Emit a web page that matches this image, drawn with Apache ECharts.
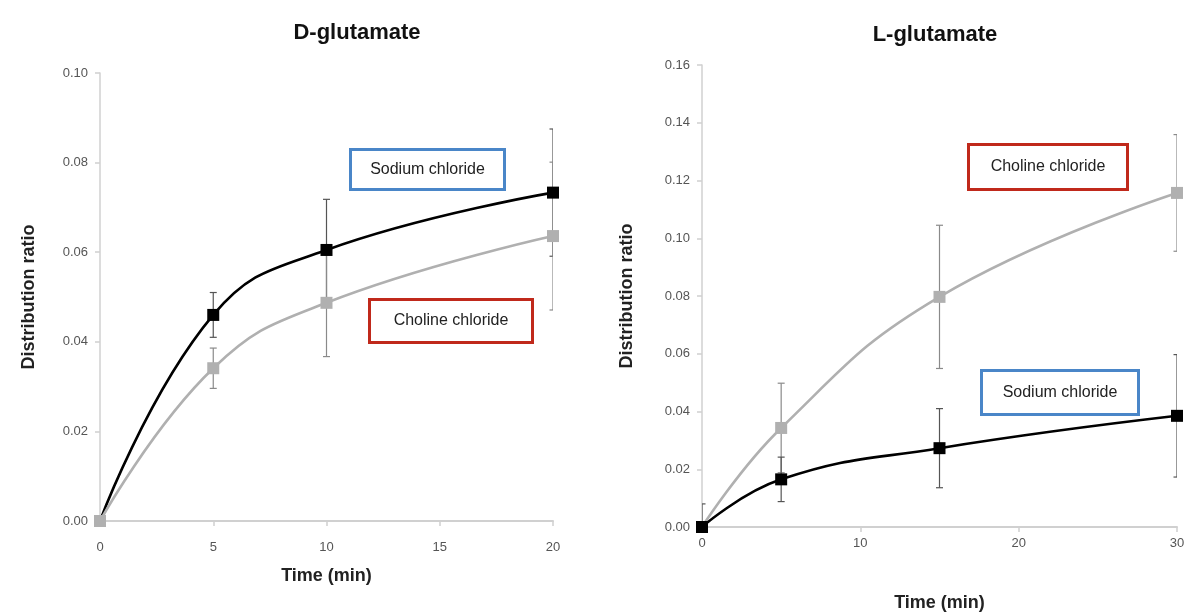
<!DOCTYPE html>
<html>
<head>
<meta charset="utf-8">
<script src="https://cdn.jsdelivr.net/npm/echarts@6/dist/echarts.min.js"></script>
<style>
html,body{margin:0;padding:0;background:#fff;}
#chart{width:1189px;height:615px;}
</style>
</head>
<body>
<div id="chart"></div>
<script>
// ---- Data ----
const dTimes = [0, 5, 10, 20];
const dSodium = [0, 0.046, 0.0605, 0.0733];
const dSodiumErr = [0, 0.005, 0.0113, 0.0142];
const dCholine = [0, 0.0341, 0.0487, 0.0636];
const dCholineErr = [0, 0.0045, 0.012, 0.0165];

const lTimes = [0, 5, 15, 30];
const lSodium = [0, 0.0165, 0.0273, 0.0385];
const lSodiumErr = [0.008, 0.0077, 0.0137, 0.0212];
const lCholine = [0, 0.0343, 0.0797, 0.1157];
const lCholineErr = [0, 0.0155, 0.0248, 0.0202];

const dXTicks = {min: 0, max: 20, interval: 5};
const dYTicks = {min: 0, max: 0.10, interval: 0.02};
const lXTicks = {min: 0, max: 30, interval: 10};
const lYTicks = {min: 0, max: 0.16, interval: 0.02};

const titles = ['D-glutamate', 'L-glutamate'];
const xName = 'Time (min)';
const yName = 'Distribution ratio';
const labelSodium = 'Sodium chloride';
const labelCholine = 'Choline chloride';

// ---- Build ----
const FONT = '"Liberation Sans", Arial, sans-serif';
const BLACK = '#000000';
const GRAY = '#b0b0b0';

function pts(xs, ys) { return xs.map((x, i) => [x, ys[i]]); }
function errs(xs, ys, es) { return xs.map((x, i) => [x, ys[i] - es[i], ys[i] + es[i]]); }

function errorSeries(idx, data, color, z) {
  return {
    type: 'custom', xAxisIndex: idx, yAxisIndex: idx, z: z, silent: true,
    data: data.filter(d => d[2] - d[1] > 0),
    clip: true,
    renderItem: function (params, api) {
      const x = api.value(0);
      const lo = api.coord([x, Math.max(api.value(1), 0)]);
      const hi = api.coord([x, api.value(2)]);
      const loRaw = api.value(1);
      const w = 3.5;
      const style = {stroke: color, lineWidth: 1.2};
      const children = [
        {type: 'line', shape: {x1: hi[0], y1: hi[1], x2: lo[0], y2: lo[1]}, style: style},
        {type: 'line', shape: {x1: hi[0] - w, y1: hi[1], x2: hi[0] + w, y2: hi[1]}, style: style}
      ];
      if (loRaw > 0) children.push({type: 'line', shape: {x1: lo[0] - w, y1: lo[1], x2: lo[0] + w, y2: lo[1]}, style: style});
      return {type: 'group', children: children};
    }
  };
}

function lineSeries(idx, data, color, z) {
  return {
    type: 'line', xAxisIndex: idx, yAxisIndex: idx, z: z,
    data: data, smooth: 0.45, symbol: 'rect', symbolSize: 12,
    lineStyle: {color: color, width: 2.6},
    itemStyle: {color: color},
    animation: false
  };
}

function xAxis(idx, t, nameGap, margin) {
  return {
    type: 'value', gridIndex: idx, min: t.min, max: t.max, interval: t.interval,
    name: xName, nameLocation: 'middle', nameGap: nameGap,
    nameTextStyle: {fontFamily: FONT, fontWeight: 'bold', fontSize: 18, color: '#222'},
    axisLine: {show: true, lineStyle: {color: '#d0d0d0', width: 2}},
    axisTick: {show: true, length: 5, lineStyle: {color: '#d0d0d0', width: 1.5}},
    axisLabel: {fontFamily: FONT, fontSize: 13, color: '#555', margin: margin},
    splitLine: {show: false}
  };
}
function yAxis(idx, t, nameGap) {
  return {
    type: 'value', gridIndex: idx, min: t.min, max: t.max, interval: t.interval,
    name: yName, nameLocation: 'middle', nameGap: nameGap, nameRotate: 90,
    nameTextStyle: {fontFamily: FONT, fontWeight: 'bold', fontSize: 18, color: '#222'},
    axisLine: {show: true, lineStyle: {color: '#d0d0d0', width: 1.5}},
    axisTick: {show: true, length: 5, lineStyle: {color: '#d0d0d0', width: 1.5}},
    axisLabel: {fontFamily: FONT, fontSize: 13, color: '#555', margin: 12,
      formatter: v => v.toFixed(2)},
    splitLine: {show: false}
  };
}

function box(left, top, w, h, text, color) {
  return {
    type: 'group', left: left, top: top,
    children: [
      {type: 'rect', shape: {x: 0, y: 0, width: w, height: h},
       style: {fill: '#fff', stroke: color, lineWidth: 3}},
      {type: 'text', x: w / 2, y: h / 2,
       style: {text: text, fill: '#222', font: '16px ' + FONT, textAlign: 'center', textVerticalAlign: 'middle'}}
    ]
  };
}

const chart = echarts.init(document.getElementById('chart'), null, {renderer: 'canvas'});
chart.setOption({
  animation: false,
  backgroundColor: '#fff',
  title: [
    {text: titles[0], left: 352, top: 17, textAlign: 'center',
     textStyle: {fontFamily: FONT, fontWeight: 'bold', fontSize: 22, color: '#111'}},
    {text: titles[1], left: 930, top: 19, textAlign: 'center',
     textStyle: {fontFamily: FONT, fontWeight: 'bold', fontSize: 22, color: '#111'}}
  ],
  grid: [
    {left: 100, right: 636, top: 73, bottom: 94, outerBoundsMode: 'none', containLabel: false},
    {left: 702, right: 12, top: 65, bottom: 88, outerBoundsMode: 'none', containLabel: false}
  ],
  xAxis: [xAxis(0, dXTicks, 46, 20), xAxis(1, lXTicks, 67, 10)],
  yAxis: [yAxis(0, dYTicks, 62), yAxis(1, lYTicks, 66)],
  series: [
    errorSeries(0, errs(dTimes, dSodium, dSodiumErr), '#555', 2),
    errorSeries(0, errs(dTimes, dCholine, dCholineErr), '#8a8a8a', 2),
    lineSeries(0, pts(dTimes, dSodium), BLACK, 3),
    lineSeries(0, pts(dTimes, dCholine), GRAY, 4),
    errorSeries(1, errs(lTimes, lCholine, lCholineErr), '#8a8a8a', 2),
    errorSeries(1, errs(lTimes, lSodium, lSodiumErr), '#555', 2),
    lineSeries(1, pts(lTimes, lCholine), GRAY, 3),
    lineSeries(1, pts(lTimes, lSodium), BLACK, 4)
  ],
  graphic: [
    box(349, 148, 154, 40, labelSodium, '#4a86c8'),
    box(368, 298, 163, 43, labelCholine, '#c0291b'),
    box(967, 143, 159, 45, labelCholine, '#c0291b'),
    box(980, 369, 157, 44, labelSodium, '#4a86c8')
  ]
});
</script>
</body>
</html>
